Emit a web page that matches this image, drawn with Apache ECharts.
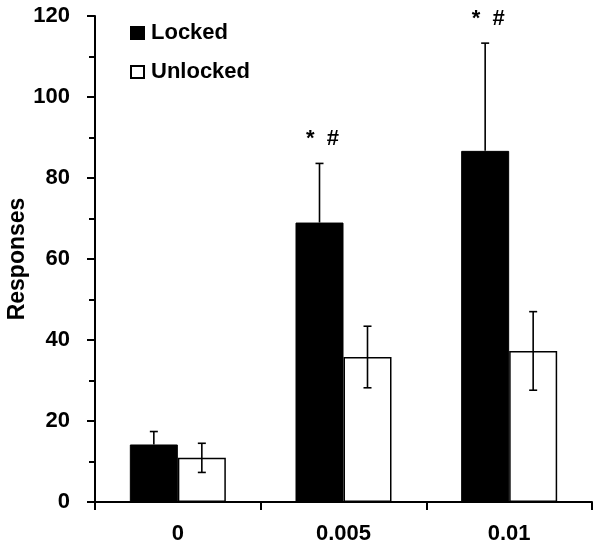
<!DOCTYPE html>
<html><head><meta charset="utf-8">
<script src="https://cdn.jsdelivr.net/npm/echarts@6/dist/echarts.min.js"></script>
<style>html,body{margin:0;padding:0;background:#fff}#c{width:601px;height:550px}</style>
</head><body><div id="c"></div>
<script>
const categories = ['0', '0.005', '0.01'];
const lockedMean = [14.2, 69.0, 86.7];
const lockedErr = [3.2, 14.6, 26.6];
const unlockedMean = [10.9, 35.8, 37.3];
const unlockedErr = [3.6, 7.6, 9.7];
const annotations = ['', '*  #', '*  #'];
const annotationY = [null, 89.6, 119.3];
const yTicks = [0, 20, 40, 60, 80, 100, 120];

const BAR_W = 48;
const FONT = 'Liberation Sans, Arial, sans-serif';

const chart = echarts.init(document.getElementById('c'), null, {renderer: 'canvas'});

function errRender(offsetSign, both) {
  return function (params, api) {
    const x = api.value(0);
    const hi = api.coord([x, api.value(2)]);
    const mid = api.coord([x, api.value(1)]);
    const lo = api.coord([x, api.value(3)]);
    const cx = mid[0] + offsetSign * BAR_W / 2;
    const half = 4;
    const style = {stroke: '#000', lineWidth: 1.6};
    const ch = [
      {type: 'line', shape: {x1: cx, y1: hi[1], x2: cx, y2: both ? lo[1] : mid[1]}, style},
      {type: 'line', shape: {x1: cx - half, y1: hi[1], x2: cx + half, y2: hi[1]}, style}
    ];
    if (both) ch.push({type: 'line', shape: {x1: cx - half, y1: lo[1], x2: cx + half, y2: lo[1]}, style});
    return {type: 'group', children: ch};
  };
}

const lockedErrData = categories.map((c, i) => [i, lockedMean[i], lockedMean[i] + lockedErr[i], lockedMean[i]]);
const unlockedErrData = categories.map((c, i) => [i, unlockedMean[i], unlockedMean[i] + unlockedErr[i], unlockedMean[i] - unlockedErr[i]]);
const annData = categories.map((c, i) => [i, annotationY[i], annotations[i]]).filter(d => d[1] != null);

chart.setOption({
  animation: false,
  backgroundColor: '#fff',
  grid: {left: 95, top: 16, width: 497, height: 486, containLabel: false, outerBoundsMode: 'none'},
  legend: {
    orient: 'vertical', left: 130, top: 22, itemWidth: 13, itemHeight: 12, itemGap: 17,
    icon: 'rect', padding: 0,
    data: ['Locked', 'Unlocked'],
    textStyle: {fontFamily: FONT, fontWeight: 'bold', fontSize: 22, lineHeight: 22, color: '#000', padding: [0, 0, 0, 2]}
  },
  xAxis: {
    type: 'category', data: categories,
    axisLine: {lineStyle: {color: '#000', width: 2}},
    axisTick: {show: true, length: 8, lineStyle: {color: '#000', width: 2}},
    axisLabel: {fontFamily: FONT, fontWeight: 'bold', fontSize: 22, color: '#000', margin: 21}
  },
  yAxis: {
    type: 'value', min: 0, max: 120, interval: 20,
    name: 'Responses', nameLocation: 'middle', nameGap: 66, nameMoveOverlap: false,
    nameTextStyle: {fontFamily: FONT, fontWeight: 'bold', fontSize: 23, color: '#000'},
    axisLine: {show: true, lineStyle: {color: '#000', width: 2}},
    axisTick: {show: true, length: 8, lineStyle: {color: '#000', width: 2}},
    minorTick: {show: true, splitNumber: 2, length: 6, lineStyle: {color: '#000', width: 2}},
    splitLine: {show: false},
    axisLabel: {fontFamily: FONT, fontWeight: 'bold', fontSize: 22, color: '#000', margin: 25,
      formatter: v => yTicks.includes(v) ? String(v) : ''}
  },
  series: [
    {name: 'Locked', type: 'bar', data: lockedMean, barWidth: BAR_W, barGap: '0%',
      itemStyle: {color: '#000', borderColor: '#000', borderWidth: 1}},
    {name: 'Unlocked', type: 'bar', data: unlockedMean, barWidth: BAR_W, barGap: '0%',
      itemStyle: {color: '#fff', borderColor: '#000', borderWidth: 1.5}},
    {type: 'custom', renderItem: errRender(-1, false), data: lockedErrData, z: 5,
      encode: {x: 0, y: [1, 2, 3]}},
    {type: 'custom', renderItem: errRender(1, true), data: unlockedErrData, z: 5,
      encode: {x: 0, y: [1, 2, 3]}},
    {type: 'custom', data: annData, z: 6, clip: false,
      encode: {x: 0, y: 1},
      renderItem: function (params, api) {
        const p = api.coord([api.value(0), api.value(1)]);
        return {type: 'text', x: p[0] - BAR_W / 2 + 3, y: p[1],
          style: {text: annData[params.dataIndex][2], font: 'bold 22px ' + FONT, fill: '#000',
            align: 'center', verticalAlign: 'middle'}};
      }}
  ]
});
</script></body></html>
